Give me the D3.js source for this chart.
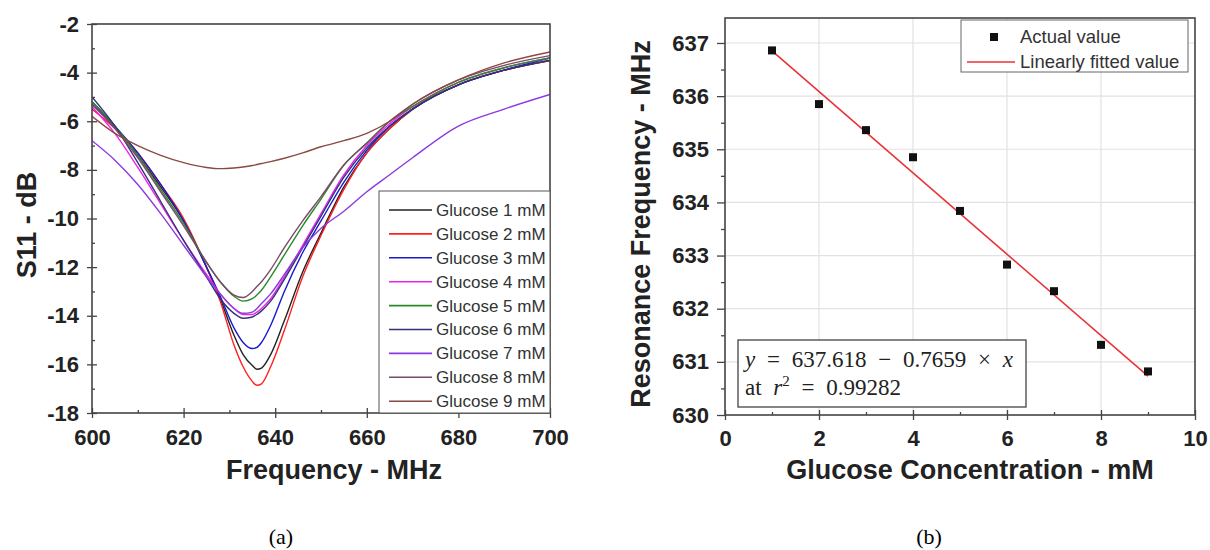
<!DOCTYPE html>
<html>
<head>
<meta charset="utf-8">
<script src="https://cdn.jsdelivr.net/npm/d3@7"></script>
<style>
  body { margin: 0; background: #fff; }
  svg { display: block; }
  .tick text { font-family: "Liberation Sans", Arial, sans-serif; font-weight: bold; font-size: 22px; fill: #222; }
  .axis path { display: none; }
  .axis line { stroke: #444; stroke-width: 1.3; }
</style>
</head>
<body>
<script>
// (a) S11 sweeps
var freq = [600, 605, 610, 615, 620, 625, 628, 631, 633, 635, 636, 637, 639, 642, 646, 650, 655, 660, 665, 670, 680, 690, 700];
var g1 = [-5.2, -6.2, -7.4, -8.7, -10.1, -12.0, -13.3, -14.8, -15.6, -16.05, -16.2, -16.15, -15.6, -14.2, -12.2, -10.6, -8.7, -7.3, -6.3, -5.5, -4.5, -3.9, -3.5];
var g2 = [-5.5, -6.3, -7.3, -8.6, -10.0, -12.0, -13.4, -15.2, -16.1, -16.7, -16.86, -16.8, -16.1, -14.6, -12.4, -10.7, -8.8, -7.3, -6.3, -5.5, -4.5, -3.9, -3.5];
var g3 = [-5.3, -6.2, -7.3, -8.6, -10.1, -12.0, -13.2, -14.5, -15.1, -15.35, -15.3, -15.1, -14.4, -13.0, -11.4, -10.1, -8.5, -7.2, -6.2, -5.5, -4.5, -3.9, -3.4];
var g4 = [-5.4, -6.5, -7.9, -9.4, -10.9, -12.3, -13.1, -13.7, -13.95, -13.95, -13.85, -13.7, -13.3, -12.4, -11.1, -9.8, -8.2, -7.0, -6.1, -5.4, -4.4, -3.8, -3.4];
var g5 = [-5.2, -6.2, -7.4, -8.8, -10.2, -11.8, -12.6, -13.2, -13.4, -13.3, -13.15, -12.95, -12.4, -11.5, -10.3, -9.2, -7.8, -6.9, -6.0, -5.4, -4.4, -3.8, -3.4];
var g6 = [-5.0, -6.2, -7.7, -9.3, -10.9, -12.4, -13.3, -13.9, -14.1, -14.05, -13.95, -13.8, -13.4, -12.5, -11.2, -9.9, -8.3, -7.1, -6.2, -5.5, -4.5, -3.9, -3.5];
var g7 = [-6.8, -7.6, -8.6, -9.8, -11.1, -12.4, -13.1, -13.7, -13.9, -13.85, -13.7, -13.5, -13.1, -12.3, -11.2, -10.4, -9.7, -8.9, -8.2, -7.5, -6.2, -5.5, -4.9];
var g8 = [-5.3, -6.3, -7.5, -8.9, -10.3, -11.8, -12.6, -13.15, -13.25, -13.0, -12.8, -12.6, -12.1, -11.2, -10.1, -9.1, -7.8, -6.9, -6.0, -5.3, -4.3, -3.7, -3.3];
var g9 = [-5.8, -6.5, -7.0, -7.4, -7.7, -7.9, -7.95, -7.92, -7.88, -7.82, -7.78, -7.74, -7.66, -7.52, -7.3, -7.05, -6.8, -6.5, -6.0, -5.3, -4.3, -3.6, -3.15];
var seriesNames = ["Glucose 1 mM", "Glucose 2 mM", "Glucose 3 mM", "Glucose 4 mM", "Glucose 5 mM",
                   "Glucose 6 mM", "Glucose 7 mM", "Glucose 8 mM", "Glucose 9 mM"];
var seriesColors = ["#222222", "#ff2020", "#1a1acc", "#ee22ee", "#2a8a2a", "#33337a", "#8a3ae0", "#7a4a6a", "#8a4a40"];
var freqTicks = [600, 620, 640, 660, 680, 700];
var s11Ticks = [-2, -4, -6, -8, -10, -12, -14, -16, -18];

// (b) resonance vs concentration
var conc = [1, 2, 3, 4, 5, 6, 7, 8, 9];
var resFreq = [636.86, 635.85, 635.36, 634.85, 633.84, 632.83, 632.33, 631.32, 630.82];
var fitConc = [1, 9];
var fitFreq = [636.85, 630.73];
var concTicks = [0, 2, 4, 6, 8, 10];
var resTicks = [630, 631, 632, 633, 634, 635, 636, 637];

var W = 1210, H = 550;
var svg = d3.select("body").append("svg")
    .attr("width", W)
    .attr("height", H)
    .style("background", "#fff");

var sans = "'Liberation Sans', Arial, sans-serif";
var serif = "'Liberation Serif', 'Times New Roman', serif";

// ---------- panel (a) ----------
var xL = d3.scaleLinear().domain([600, 700]).range([92, 550]);
var yL = d3.scaleLinear().domain([-18, -2]).range([413, 24]);

var pa = svg.append("g").attr("class", "panel-a");

pa.append("clipPath").attr("id", "clipA")
  .append("rect")
    .attr("x", xL(600)).attr("y", yL(-2))
    .attr("width", xL(700) - xL(600)).attr("height", yL(-18) - yL(-2));

var allSeries = [g1, g2, g3, g4, g5, g6, g7, g8, g9];
var lineA = d3.line()
    .x(function(d, i) { return xL(freq[i]); })
    .y(function(d) { return yL(d); })
    .curve(d3.curveMonotoneX);

pa.append("g").attr("clip-path", "url(#clipA)")
  .selectAll("path")
  .data(allSeries)
  .enter()
  .append("path")
    .attr("fill", "none")
    .attr("stroke", function(d, i) { return seriesColors[i]; })
    .attr("stroke-width", 1.4)
    .attr("d", lineA);

// axes: labels + outward ticks, then inward ticks
pa.append("g").attr("class", "axis")
    .attr("transform", "translate(0," + yL(-18) + ")")
    .call(d3.axisBottom(xL).tickValues(freqTicks).tickSize(5).tickPadding(11).tickFormat(function(d) { return String(d); }));
pa.append("g").attr("class", "axis")
    .attr("transform", "translate(0," + yL(-18) + ")")
    .call(d3.axisBottom(xL).tickValues(freqTicks).tickSize(-5).tickFormat(""));
pa.append("g").attr("class", "axis")
    .attr("transform", "translate(0," + yL(-18) + ")")
    .call(d3.axisBottom(xL).tickValues(d3.range(610, 700, 20)).tickSize(-3).tickFormat(""));

pa.append("g").attr("class", "axis")
    .attr("transform", "translate(" + xL(600) + ",0)")
    .call(d3.axisLeft(yL).tickValues(s11Ticks).tickSize(5).tickPadding(8).tickFormat(function(d) { return String(d); }));
pa.append("g").attr("class", "axis")
    .attr("transform", "translate(" + xL(600) + ",0)")
    .call(d3.axisLeft(yL).tickValues(s11Ticks).tickSize(-5).tickFormat(""));
pa.append("g").attr("class", "axis")
    .attr("transform", "translate(" + xL(600) + ",0)")
    .call(d3.axisLeft(yL).tickValues(d3.range(-17, -2, 2)).tickSize(-3).tickFormat(""));

pa.append("rect")
    .attr("x", xL(600)).attr("y", yL(-2))
    .attr("width", xL(700) - xL(600)).attr("height", yL(-18) - yL(-2))
    .attr("fill", "none").attr("stroke", "#444").attr("stroke-width", 1.6);

// legend (a)
var legA = pa.append("g").attr("class", "legend");
legA.append("rect")
    .attr("x", 379).attr("y", 191)
    .attr("width", xL(700) - 379).attr("height", yL(-18) - 191)
    .attr("fill", "#fff").attr("stroke", "#555").attr("stroke-width", 1);
var legItems = legA.selectAll("g.item")
    .data(seriesNames)
    .enter()
    .append("g")
    .attr("class", "item")
    .attr("transform", function(d, i) { return "translate(0," + (210 + i * 23.9) + ")"; });
legItems.append("line")
    .attr("x1", 389).attr("x2", 432)
    .attr("stroke", function(d, i) { return seriesColors[i]; })
    .attr("stroke-width", 1.6);
legItems.append("text")
    .attr("x", 436).attr("dy", "0.35em")
    .style("font-family", sans).style("font-size", "17px").style("fill", "#333")
    .text(function(d) { return d; });

pa.append("text")
    .attr("transform", "translate(36," + 225 + ") rotate(-90)")
    .attr("text-anchor", "middle")
    .style("font-family", sans).style("font-weight", "bold").style("font-size", "27px").style("fill", "#222")
    .text("S11 - dB");
pa.append("text")
    .attr("x", 334).attr("y", 479)
    .attr("text-anchor", "middle")
    .style("font-family", sans).style("font-weight", "bold").style("font-size", "27px").style("fill", "#222")
    .text("Frequency - MHz");
pa.append("text")
    .attr("x", 281).attr("y", 544)
    .attr("text-anchor", "middle")
    .style("font-family", serif).style("font-size", "22px").style("fill", "#000")
    .text("(a)");

// ---------- panel (b) ----------
var xR = d3.scaleLinear().domain([0, 10]).range([725, 1195]);
var yR = d3.scaleLinear().domain([630, 637.47]).range([415, 18]);

var pb = svg.append("g").attr("class", "panel-b");

// grid
pb.append("g")
  .selectAll("line.gx")
  .data([2, 4, 6, 8])
  .enter().append("line")
    .attr("x1", function(d) { return xR(d); }).attr("x2", function(d) { return xR(d); })
    .attr("y1", yR.range()[1]).attr("y2", yR.range()[0])
    .attr("stroke", "#e2e2e2").attr("stroke-width", 1.2);
pb.append("g")
  .selectAll("line.gy")
  .data(resTicks.slice(1))
  .enter().append("line")
    .attr("x1", xR(0)).attr("x2", xR(10))
    .attr("y1", function(d) { return yR(d); }).attr("y2", function(d) { return yR(d); })
    .attr("stroke", "#e2e2e2").attr("stroke-width", 1.2);

pb.append("g").attr("class", "axis")
    .attr("transform", "translate(0," + yR(630) + ")")
    .call(d3.axisBottom(xR).tickValues(concTicks).tickSize(5).tickPadding(10).tickFormat(function(d) { return String(d); }));
pb.append("g").attr("class", "axis")
    .attr("transform", "translate(0," + yR(630) + ")")
    .call(d3.axisBottom(xR).tickValues(concTicks).tickSize(-5).tickFormat(""));
pb.append("g").attr("class", "axis")
    .attr("transform", "translate(0," + yR(630) + ")")
    .call(d3.axisBottom(xR).tickValues(d3.range(1, 10, 2)).tickSize(-3).tickFormat(""));

pb.append("g").attr("class", "axis")
    .attr("transform", "translate(" + xR(0) + ",0)")
    .call(d3.axisLeft(yR).tickValues(resTicks).tickSize(8).tickPadding(8).tickFormat(function(d) { return String(d); }));
pb.append("g").attr("class", "axis")
    .attr("transform", "translate(" + xR(0) + ",0)")
    .call(d3.axisLeft(yR).tickValues(d3.range(630.5, 637.4, 1)).tickSize(4).tickFormat(""));

pb.append("rect")
    .attr("x", xR(0)).attr("y", yR.range()[1])
    .attr("width", xR(10) - xR(0)).attr("height", yR.range()[0] - yR.range()[1])
    .attr("fill", "none").attr("stroke", "#444").attr("stroke-width", 1.6);

// fitted line and points
pb.append("path")
    .datum(fitConc)
    .attr("fill", "none")
    .attr("stroke", "#e8333a")
    .attr("stroke-width", 1.6)
    .attr("d", d3.line()
        .x(function(d) { return xR(d); })
        .y(function(d, i) { return yR(fitFreq[i]); }));

pb.append("g")
  .selectAll("rect")
  .data(conc)
  .enter()
  .append("rect")
    .attr("x", function(d) { return xR(d) - 4; })
    .attr("y", function(d, i) { return yR(resFreq[i]) - 4; })
    .attr("width", 8).attr("height", 8)
    .attr("fill", "#111");

// legend (b)
var legB = pb.append("g").attr("class", "legend");
legB.append("rect")
    .attr("x", 961).attr("y", 20).attr("width", 227).attr("height", 52)
    .attr("fill", "#fff").attr("stroke", "#666").attr("stroke-width", 1);
legB.append("rect")
    .attr("x", 990).attr("y", 33).attr("width", 8).attr("height", 8)
    .attr("fill", "#111");
legB.append("text")
    .attr("x", 1020).attr("y", 37).attr("dy", "0.35em")
    .style("font-family", sans).style("font-size", "18.5px").style("fill", "#333")
    .text("Actual value");
legB.append("line")
    .attr("x1", 967).attr("x2", 1015).attr("y1", 62).attr("y2", 62)
    .attr("stroke", "#e8333a").attr("stroke-width", 1.6);
legB.append("text")
    .attr("x", 1020).attr("y", 62).attr("dy", "0.35em")
    .style("font-family", sans).style("font-size", "18.5px").style("fill", "#333")
    .text("Linearly fitted value");

// equation box
var eq = pb.append("g").attr("class", "equation");
eq.append("rect")
    .attr("x", 738).attr("y", 340).attr("width", 288).attr("height", 67)
    .attr("fill", "#fff").attr("stroke", "#444").attr("stroke-width", 1.3);
var eq1 = eq.append("text")
    .attr("x", 745).attr("y", 367)
    .style("font-family", serif).style("font-size", "23px").style("fill", "#222")
    .style("word-spacing", "6px");
eq1.append("tspan").style("font-style", "italic").text("y");
eq1.append("tspan").text(" = 637.618 \u2212 0.7659 \u00d7 ");
eq1.append("tspan").style("font-style", "italic").text("x");
var eq2 = eq.append("text")
    .attr("x", 745).attr("y", 395)
    .style("font-family", serif).style("font-size", "23px").style("fill", "#222")
    .style("word-spacing", "6px");
eq2.append("tspan").text("at ");
eq2.append("tspan").style("font-style", "italic").text("r");
eq2.append("tspan").attr("dy", -9).style("font-size", "15px").text("2");
eq2.append("tspan").attr("dy", 9).text(" = 0.99282");

pb.append("text")
    .attr("transform", "translate(650," + 224 + ") rotate(-90)")
    .attr("text-anchor", "middle")
    .style("font-family", sans).style("font-weight", "bold").style("font-size", "27px").style("fill", "#222")
    .text("Resonance Frequency - MHz");
pb.append("text")
    .attr("x", 970).attr("y", 479)
    .attr("text-anchor", "middle")
    .style("font-family", sans).style("font-weight", "bold").style("font-size", "27px").style("fill", "#222")
    .text("Glucose Concentration - mM");
pb.append("text")
    .attr("x", 929).attr("y", 544)
    .attr("text-anchor", "middle")
    .style("font-family", serif).style("font-size", "22px").style("fill", "#000")
    .text("(b)");
</script>
</body>
</html>
